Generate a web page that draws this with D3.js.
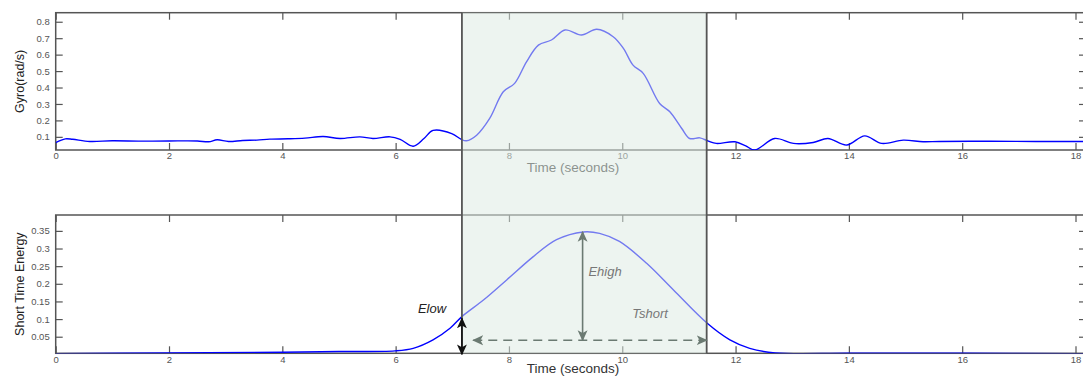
<!DOCTYPE html>
<html>
<head>
<meta charset="utf-8">
<script src="https://cdn.jsdelivr.net/npm/d3@7"></script>
<style>
  body { margin: 0; background: #fff; }
  svg { display: block; font-family: "Liberation Sans", Arial, sans-serif; }
  .tick text { fill: #555; font-size: 9.5px; }
  .tick line { stroke: #555; stroke-width: 1.2; }
</style>
</head>
<body>
<svg id="chart" width="1083" height="376"></svg>
<script>
// gyro signal
var gyroT = [0, 0.17, 0.3, 0.6, 1.0, 1.5, 2.0, 2.5, 2.7, 2.85, 3.05, 3.3, 3.55, 3.78, 4.1, 4.4, 4.72, 5.02, 5.37, 5.6, 5.9,
  6.08, 6.31, 6.5, 6.66, 6.99, 7.16, 7.25, 7.43, 7.66, 7.9, 8.1, 8.31, 8.52, 8.75, 8.99, 9.28, 9.55, 9.84, 10.02, 10.19,
  10.37, 10.66, 10.84, 11.05, 11.19, 11.37, 11.52, 11.66, 11.99, 12.18, 12.34, 12.69, 13.02, 13.37, 13.63, 13.96, 14.28,
  14.58, 14.96, 15.31, 15.6, 16.5, 17.3, 18.15];
var gyroV = [0.065, 0.088, 0.085, 0.072, 0.076, 0.074, 0.075, 0.075, 0.07, 0.082, 0.072, 0.078, 0.08, 0.086, 0.088, 0.092, 0.102, 0.09, 0.1, 0.09, 0.1,
  0.085, 0.043, 0.09, 0.139, 0.12, 0.084, 0.076, 0.11, 0.212, 0.374, 0.425, 0.556, 0.658, 0.689, 0.75, 0.719, 0.754, 0.709, 0.638, 0.536,
  0.486, 0.303, 0.252, 0.151, 0.09, 0.094, 0.074, 0.06, 0.07, 0.045, 0.02, 0.09, 0.06, 0.066, 0.09, 0.05, 0.106,
  0.06, 0.08, 0.07, 0.072, 0.073, 0.072, 0.072];

// short time energy
var energyT = [0, 2, 4, 5, 5.99, 6.31, 6.66, 6.96, 7.17, 7.55, 7.96, 8.43, 8.84, 9.31, 9.6, 9.95, 10.43, 10.9, 11.5, 11.9, 12.25, 12.7, 14, 16, 18.15];
var energyV = [0.002, 0.004, 0.006, 0.008, 0.01, 0.017, 0.041, 0.074, 0.107, 0.154, 0.211, 0.277, 0.325, 0.347, 0.343, 0.32, 0.258, 0.183, 0.088, 0.041, 0.017, 0.004, 0.003, 0.003, 0.002];

var xTicks = [0, 2, 4, 6, 8, 10, 12, 14, 16, 18];
var gyroTicks = [0.1, 0.2, 0.3, 0.4, 0.5, 0.6, 0.7, 0.8];
var energyTicks = [0.05, 0.1, 0.15, 0.2, 0.25, 0.3, 0.35];

// segment window and annotation values
var windowT = [7.17, 11.49];
var peakT = 9.3, peakE = 0.347, arrowE = 0.04, elowE = 0.102, tshortStart = 7.37;

var svg = d3.select('#chart');

var x = d3.scaleLinear().domain([0, 18.15]).range([55.7, 1084]);
var yTop = d3.scaleLinear().domain([0.02, 0.855]).range([150, 12.7]);
var yBot = d3.scaleLinear().domain([0.003, 0.395]).range([353.3, 215]);

var defs = svg.append('defs');
function marker(id, color) {
  defs.append('marker')
    .attr('id', id)
    .attr('viewBox', '0 0 10 10')
    .attr('refX', 9).attr('refY', 5)
    .attr('markerWidth', 11).attr('markerHeight', 11)
    .attr('markerUnits', 'userSpaceOnUse')
    .attr('orient', 'auto-start-reverse')
    .append('path')
    .attr('d', 'M0,0.5 L10,5 L0,9.5 L2.5,5 Z')
    .attr('fill', color);
}
marker('ag', '#6b7a72');
marker('ak', '#111');

function panel(y, yTicks, tv, vv, clipId, ylabel, labelDy) {
  var g = svg.append('g');
  var x0 = x.range()[0], x1 = x.range()[1];
  var y0 = y.range()[1], y1 = y.range()[0];

  defs.append('clipPath').attr('id', clipId)
    .append('rect').attr('x', x0).attr('y', y0).attr('width', x1 - x0).attr('height', y1 - y0);

  var fmt = function(d) { return String(+d.toFixed(2)); };

  g.append('g').attr('transform', 'translate(0,' + y1 + ')')
    .call(d3.axisBottom(x).tickValues(xTicks).tickSizeInner(-7).tickSizeOuter(0).tickPadding(2.5).tickFormat(fmt));
  g.append('g').attr('transform', 'translate(0,' + y0 + ')')
    .call(d3.axisTop(x).tickValues(xTicks).tickSizeInner(-7).tickSizeOuter(0).tickFormat(''));
  g.append('g').attr('transform', 'translate(' + x0 + ',0)')
    .call(d3.axisLeft(y).tickValues(yTicks).tickSizeInner(-7).tickSizeOuter(0).tickPadding(6).tickFormat(fmt));
  g.append('g').attr('transform', 'translate(' + x1 + ',0)')
    .call(d3.axisRight(y).tickValues(yTicks).tickSizeInner(-5).tickSizeOuter(0).tickFormat(''));
  g.selectAll('.domain').remove();

  g.append('rect')
    .attr('x', x0).attr('y', y0).attr('width', x1 - x0).attr('height', y1 - y0)
    .attr('fill', 'none').attr('stroke', '#555').attr('stroke-width', 1.5);

  var line = d3.line()
    .curve(d3.curveCatmullRom.alpha(0.5))
    .x(function(d, i) { return x(tv[i]); })
    .y(function(d) { return y(d); });

  g.append('path')
    .datum(vv)
    .attr('clip-path', 'url(#' + clipId + ')')
    .attr('d', line)
    .attr('fill', 'none')
    .attr('stroke', '#0000ff')
    .attr('stroke-width', 1.4);

  svg.append('text')
    .attr('transform', 'translate(' + 24 + ',' + ((y0 + y1) / 2) + ') rotate(-90)')
    .attr('text-anchor', 'middle')
    .attr('font-size', 12.5)
    .attr('fill', '#222')
    .text(ylabel);

  svg.append('text')
    .attr('x', 573).attr('y', y1 + labelDy)
    .attr('text-anchor', 'middle')
    .attr('font-size', 13.5)
    .attr('fill', '#333')
    .text('Time (seconds)');
}

panel(yTop, gyroTicks, gyroT, gyroV, 'clipTop', 'Gyro(rad/s)', 21.5);
panel(yBot, energyTicks, energyT, energyV, 'clipBot', 'Short Time Energy', 19.5);

// shaded window over both panels
var wx0 = x(windowT[0]), wx1 = x(windowT[1]);
svg.append('rect')
  .attr('x', wx0).attr('y', yTop.range()[1])
  .attr('width', wx1 - wx0).attr('height', yBot.range()[0] - yTop.range()[1])
  .attr('fill', 'rgb(221,234,226)').attr('fill-opacity', 0.52);
windowT.forEach(function(t) {
  svg.append('line')
    .attr('x1', x(t)).attr('x2', x(t))
    .attr('y1', yTop.range()[1]).attr('y2', yBot.range()[0])
    .attr('stroke', '#555').attr('stroke-width', 1.8);
});

// annotations
var ann = svg.append('g');
ann.append('line')
  .attr('x1', x(peakT)).attr('x2', x(peakT))
  .attr('y1', yBot(arrowE)).attr('y2', yBot(peakE))
  .attr('stroke', '#6b7a72').attr('stroke-width', 1.6)
  .attr('marker-start', 'url(#ag)').attr('marker-end', 'url(#ag)');
ann.append('line')
  .attr('x1', x(tshortStart)).attr('x2', x(windowT[1]))
  .attr('y1', yBot(arrowE)).attr('y2', yBot(arrowE))
  .attr('stroke', '#6b7a72').attr('stroke-width', 1.6)
  .attr('stroke-dasharray', '9,6')
  .attr('marker-start', 'url(#ag)').attr('marker-end', 'url(#ag)');
ann.append('line')
  .attr('x1', x(windowT[0])).attr('x2', x(windowT[0]))
  .attr('y1', yBot(elowE)).attr('y2', yBot(0))
  .attr('stroke', '#111').attr('stroke-width', 1.6)
  .attr('marker-start', 'url(#ak)').attr('marker-end', 'url(#ak)');

ann.append('text').attr('x', 432).attr('y', 313)
  .attr('text-anchor', 'middle').attr('font-size', 13).attr('font-style', 'italic')
  .attr('fill', '#222').text('Elow');
ann.append('text').attr('x', 605).attr('y', 276)
  .attr('text-anchor', 'middle').attr('font-size', 13).attr('font-style', 'italic')
  .attr('fill', '#777').text('Ehigh');
ann.append('text').attr('x', 650).attr('y', 318)
  .attr('text-anchor', 'middle').attr('font-size', 13).attr('font-style', 'italic')
  .attr('fill', '#777').text('Tshort');
</script>
</body>
</html>
